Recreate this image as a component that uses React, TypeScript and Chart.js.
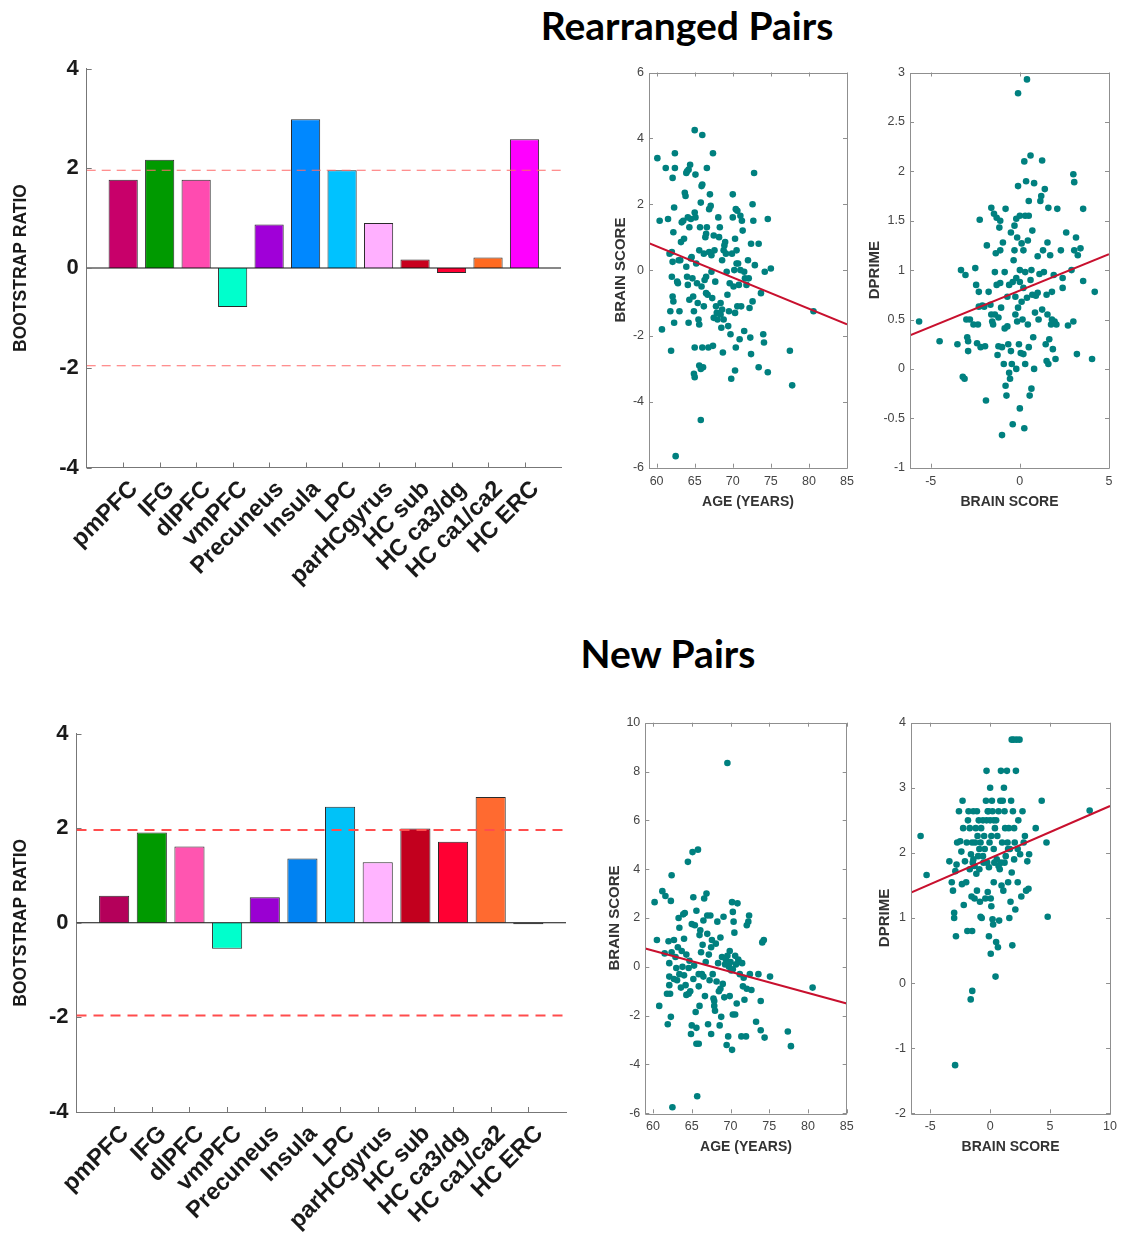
import React, { useEffect, useRef } from 'react';
import { Chart, registerables } from 'chart.js';

Chart.register(...registerables);

type Pt = [number, number];

// ---------------- DATA ----------------
const regions = ['pmPFC', 'IFG', 'dlPFC', 'vmPFC', 'Precuneus', 'Insula', 'LPC', 'parHCgyrus', 'HC sub', 'HC ca3/dg', 'HC ca1/ca2', 'HC ERC'];
const rearrangedRatios = [1.77, 2.17, 1.77, -0.78, 0.87, 2.98, 1.96, 0.9, 0.17, -0.1, 0.21, 2.58];
const newRatios = [0.57, 1.91, 1.61, -0.55, 0.54, 1.36, 2.45, 1.28, 1.99, 1.71, 2.66, -0.03];
const rearrangedColors = ['#C8006A', '#009A00', '#FF4BB0', '#00FFCC', '#A000D8', '#0088FF', '#00C2FF', '#FFB0FF', '#C8001E', '#FF0033', '#FF6A20', '#FF00FF'];
const newColors = ['#B4005A', '#009A00', '#FF55B0', '#00FFCC', '#9A00D2', '#0082F2', '#00C2F8', '#FFB4FF', '#C2001E', '#FF0033', '#FF6A30', '#111111'];
const ratioTicks = [-4, -2, 0, 2, 4];
const threshold = 1.96;

const ageTicks = [60, 65, 70, 75, 80, 85];
const brainTicksTop = [-6, -4, -2, 0, 2, 4, 6];
const brainTicksNew = [-6, -4, -2, 0, 2, 4, 6, 8, 10];
const scoreTicksTop = [-5, 0, 5];
const scoreTicksNew = [-5, 0, 5, 10];
const dprimeTicksTop = [-1, -0.5, 0, 0.5, 1, 1.5, 2, 2.5, 3];
const dprimeTicksNew = [-2, -1, 0, 1, 2, 3, 4];

// Rearranged pairs: age vs brain score
const ageBrainRearranged: Pt[] = [
  [60.1, 3.4], [60.4, 1.5], [61.2, 3.1], [61.5, 1.55], [60.7, -1.8], [61.8, -1.25], [61.9, -2.45], [61.7, 0.5], [62.0, 0.55], [62.1, 0.25],
  [62.0, -0.2], [62.1, -0.8], [62.2, -0.95], [62.3, -1.6], [62.2, 1.15], [62.3, 1.9], [62.1, 2.8], [62.4, 3.1], [62.4, 3.55], [62.5, -5.65],
  [62.8, -0.4], [62.9, 0.3], [63.0, -1.25], [63.2, 0.85], [63.3, 1.45], [63.5, 1.5], [63.6, 0.95], [63.7, 2.35], [63.8, 2.25], [63.9, 2.95],
  [64.0, 3.0], [64.2, 3.05], [64.4, 3.2], [63.9, 0.1], [64.0, -0.2], [64.1, -0.45], [64.2, -1.6], [64.3, -0.9], [64.1, 1.6], [64.3, 1.3],
  [64.5, 1.55], [64.6, 0.4], [64.7, -0.25], [64.8, -0.8], [64.9, -1.25], [65.0, 1.75], [65.1, 1.6], [64.9, -3.15], [65.0, -3.25], [65.0, -2.35],
  [65.0, 4.25], [65.1, 2.9], [65.3, -0.4], [65.4, -1.0], [65.5, -1.5], [65.6, -1.65], [65.6, 0.6], [65.7, 1.3], [65.8, 2.05], [65.9, 2.55],
  [66.0, 2.6], [66.0, 4.1], [65.8, -4.55], [65.6, -2.9], [65.8, -3.0], [66.0, -2.35], [66.1, -2.95], [66.2, -1.1], [66.3, -0.3], [66.2, 0.5],
  [66.4, 1.0], [66.5, 1.1], [66.6, 1.3], [66.6, 3.1], [66.5, -0.2], [66.7, -0.75], [66.8, -2.35], [66.9, 1.85], [67.0, 2.3], [67.1, 1.95],
  [67.2, 0.45], [67.3, -0.85], [67.4, -2.3], [67.4, 3.55], [67.5, 1.05], [67.6, 0.6], [67.7, -0.35], [67.8, -1.1], [67.9, -1.3], [68.0, -1.5],
  [68.1, 1.6], [68.2, 1.0], [68.3, 1.3], [68.4, -1.35], [68.5, -1.75], [68.6, -1.2], [68.6, 0.3], [68.7, -2.5], [68.8, 0.6], [68.9, 0.75],
  [69.0, 0.85], [69.1, 0.5], [69.2, -0.05], [69.3, -0.75], [69.4, -1.7], [69.5, -1.25], [69.7, -1.95], [69.8, -3.3], [69.9, 0.5], [70.0, 2.3],
  [70.0, 1.6], [70.1, -0.5], [70.2, 0.0], [70.3, -1.3], [70.3, 0.95], [70.4, 1.85], [70.5, 0.6], [70.5, 0.2], [70.4, -2.35], [70.3, -3.05],
  [70.6, 1.8], [70.7, 0.2], [70.8, -0.45], [70.9, -2.1], [71.0, 1.65], [71.1, -1.1], [71.2, 1.5], [71.3, 1.2], [71.5, -0.05], [71.6, -0.25],
  [71.5, -1.85], [71.8, -0.45], [72.0, 0.3], [72.1, -0.25], [72.2, -1.15], [72.3, -2.05], [72.4, -2.55], [72.4, 0.8], [72.6, 2.0], [72.7, 1.5],
  [72.6, -0.95], [72.8, 2.95], [72.9, 0.15], [73.4, 0.8], [73.4, -2.95], [73.7, -0.7], [74.0, -1.95], [74.1, -2.2], [74.2, -0.05], [74.6, 1.55],
  [74.6, -3.1], [75.0, 0.05], [77.5, -2.45], [77.8, -3.5], [80.6, -1.25], [67.2, -0.05], [66.9, 0.55], [68.4, -1.0], [69.6, -0.4], [64.5, 0.35],
  [63.1, 0.3], [62.7, -0.35], [65.2, 0.2], [67.5, -1.45], [68.8, -1.5], [70.6, -1.1], [71.0, 0.0], [65.9, -0.5], [66.5, -0.7],
];
const ageBrainRearrangedFit: Pt[] = [[59, 0.82], [85, -1.65]];

// Rearranged pairs: brain score vs dprime
const scoreDprimeRearranged: Pt[] = [
  [-5.65, 0.48], [-4.5, 0.28], [-3.5, 0.25], [-3.3, 1.0], [-3.2, -0.08], [-3.1, -0.1], [-3.05, 0.95], [-3.0, 0.5], [-2.95, 0.32], [-2.9, 0.28],
  [-2.9, 0.18], [-2.8, 0.5], [-2.6, 0.45], [-2.5, 1.02], [-2.45, 0.85], [-2.4, 0.26], [-2.35, 0.45], [-2.3, 0.63], [-2.3, 0.78], [-2.25, 1.51],
  [-2.2, 0.22], [-2.1, 0.64], [-2.0, 0.63], [-1.95, 0.23], [-1.9, -0.32], [-1.85, 1.25], [-1.75, 0.78], [-1.65, 0.65], [-1.6, 1.63], [-1.55, 0.48],
  [-1.5, 0.45], [-1.45, 1.57], [-1.4, 0.98], [-1.4, 0.55], [-1.35, 1.17], [-1.3, 1.53], [-1.3, 0.85], [-1.25, 0.14], [-1.2, 0.23], [-1.2, 0.52],
  [-1.15, 1.43], [-1.1, 1.5], [-1.1, 1.2], [-1.1, 0.87], [-1.05, 0.62], [-1.0, 0.22], [-1.0, -0.67], [-0.95, 1.28], [-0.9, 0.05], [-0.85, 0.41],
  [-0.85, 0.98], [-0.8, 1.62], [-0.8, -0.17], [-0.75, -0.27], [-0.7, 0.43], [-0.7, 0.73], [-0.65, 0.25], [-0.6, 0.85], [-0.6, -0.04], [-0.55, -0.1],
  [-0.5, 0.18], [-0.45, 0.05], [-0.4, -0.56], [-0.35, 1.1], [-0.3, 1.2], [-0.3, 1.45], [-0.25, 0.73], [-0.25, 0.55], [-0.2, 0.92], [-0.2, 0.0],
  [-0.2, 1.52], [-0.15, 1.33], [-0.15, 0.48], [-0.1, 2.79], [-0.1, 1.85], [-0.1, 0.62], [-0.05, 0.25], [0.0, 1.0], [0.0, 0.88], [0.0, -0.4],
  [0.0, 1.55], [0.05, 0.16], [0.1, 0.68], [0.1, 1.27], [0.15, 0.5], [0.2, 1.2], [0.2, 0.82], [0.2, 0.15], [0.25, 2.1], [0.25, -0.6],
  [0.3, 0.98], [0.3, 0.05], [0.35, 1.9], [0.4, 2.93], [0.4, 0.72], [0.45, 1.3], [0.45, 0.45], [0.5, 1.55], [0.5, 0.22], [0.5, 1.7],
  [0.55, -0.27], [0.6, 0.9], [0.6, 2.16], [0.65, -0.2], [0.7, 1.4], [0.7, 0.75], [0.75, 0.32], [0.8, 0.0], [0.8, 1.88], [0.85, 0.57],
  [0.9, 0.74], [1.0, 0.77], [1.0, 1.14], [1.05, 0.5], [1.1, 0.96], [1.15, 1.7], [1.2, 1.75], [1.25, 2.11], [1.3, 1.2], [1.35, 0.98],
  [1.4, 1.82], [1.45, 0.25], [1.5, 0.75], [1.5, 0.08], [1.55, 1.28], [1.55, 0.55], [1.6, 0.05], [1.6, 1.63], [1.65, 0.3], [1.7, 1.15],
  [1.75, 0.45], [1.8, 0.5], [1.8, 0.78], [1.85, 0.2], [1.9, 0.95], [1.95, 0.48], [2.0, 0.1], [2.05, 0.45], [2.1, 1.62], [2.3, 1.2],
  [2.4, 0.82], [2.4, 0.92], [2.6, 1.38], [2.7, 0.44], [2.9, 1.0], [3.0, 1.97], [3.0, 0.48], [3.05, 1.89], [3.05, 1.2], [3.15, 1.33],
  [3.2, 0.15], [3.25, 1.15], [3.4, 1.22], [3.55, 0.89], [3.55, 1.62], [4.05, 0.1], [4.2, 0.78], [0.3, 1.55], [-0.4, 0.88], [1.25, 0.6],
  [-1.6, 0.55], [0.65, 1.0], [-0.5, 1.38],
];
const scoreDprimeRearrangedFit: Pt[] = [[-6.16, 0.34], [5, 1.16]];

// New pairs: age vs brain score
const ageBrainNew: Pt[] = [
  [60.2, 2.65], [60.5, 1.1], [60.8, -1.6], [61.2, 3.1], [61.5, 0.55], [61.6, 2.9], [61.8, -1.1], [61.9, -2.35], [62.0, 1.05], [62.1, 0.15],
  [62.1, -0.4], [62.1, -0.75], [62.2, -1.1], [62.3, -2.05], [62.3, 2.7], [62.4, 3.75], [62.5, -5.75], [62.4, 0.6], [62.7, 1.1], [62.9, 0.4],
  [63.0, -0.05], [63.1, -0.55], [63.2, 0.8], [63.3, 2.0], [63.4, 1.6], [63.6, -0.85], [63.7, 0.65], [63.8, 0.0], [63.9, 2.15], [64.0, 1.15],
  [64.1, 2.2], [64.2, -0.75], [64.3, -1.15], [64.3, 0.5], [64.5, 4.3], [64.6, -0.05], [64.7, 0.25], [64.8, -1.0], [64.9, -2.75], [65.0, 1.75],
  [65.0, -2.4], [65.1, 4.7], [65.2, -0.5], [65.2, 2.85], [65.4, 1.7], [65.5, -1.85], [65.6, 2.3], [65.6, -2.5], [65.6, -3.15], [65.7, -5.3],
  [65.8, 4.8], [65.9, -3.15], [65.9, -0.8], [66.0, -1.6], [66.1, 1.5], [66.2, 0.6], [66.3, -0.3], [66.4, 0.9], [66.5, 1.9], [66.6, 2.8],
  [66.7, -1.2], [66.8, 0.2], [66.9, 3.0], [67.0, 2.1], [67.0, 1.35], [67.1, -2.35], [67.2, 0.5], [67.3, -0.55], [67.4, 2.1], [67.5, -2.75],
  [67.6, 1.1], [67.7, -0.3], [67.8, -1.3], [67.9, -1.6], [68.0, -1.8], [68.1, 0.95], [68.2, -0.6], [68.3, 1.85], [68.4, 0.15], [68.5, -1.0],
  [68.6, -2.4], [68.7, 1.2], [68.8, -2.05], [68.9, 0.4], [69.0, -0.7], [69.1, 2.05], [69.2, -1.25], [69.3, 0.1], [69.4, 0.3], [69.5, -3.2],
  [69.6, 8.35], [69.7, -2.85], [69.8, 0.0], [69.9, 0.65], [70.0, 0.2], [70.1, -0.15], [70.2, 2.65], [70.2, -3.4], [70.3, 2.25], [70.3, -1.95],
  [70.4, 1.85], [70.5, 1.4], [70.6, 0.45], [70.6, -1.95], [70.7, 0.1], [70.8, -1.5], [70.9, 2.6], [71.0, 0.3], [71.2, -0.3], [71.4, -2.85],
  [71.5, 0.15], [71.6, -0.8], [71.7, -0.45], [71.8, -1.35], [72.0, -2.85], [72.1, -0.9], [72.1, 1.7], [72.3, 1.85], [72.4, 2.1], [72.5, -0.3],
  [72.7, -0.95], [73.3, -2.25], [73.6, -0.3], [73.9, -1.4], [73.9, -2.6], [74.1, 1.0], [74.3, 1.1], [74.4, -2.9], [75.1, -0.4], [77.4, -2.65],
  [77.8, -3.25], [80.6, -0.85], [64.0, -0.35], [65.3, 0.05], [66.5, -0.4], [67.5, 0.8], [68.7, -0.9], [69.6, 0.45], [70.3, -0.1], [71.1, 0.2],
  [63.4, -0.3], [62.7, -0.5], [66.0, 1.3], [67.9, -1.4], [69.9, -1.2], [64.6, -1.1], [65.9, -0.3],
];
const ageBrainNewFit: Pt[] = [[59, 0.75], [85, -1.5]];

// New pairs: brain score vs dprime
const scoreDprimeNew: Pt[] = [
  [-5.8, 2.26], [-5.3, 1.66], [-3.4, 1.87], [-3.2, 1.55], [-3.1, 1.42], [-3.0, 1.08], [-3.0, 1.0], [-2.9, 1.72], [-2.85, 0.72], [-2.8, 1.82],
  [-2.75, 2.16], [-2.6, 2.64], [-2.5, 2.18], [-2.4, 2.02], [-2.35, 1.52], [-2.3, 2.8], [-2.25, 2.38], [-2.2, 1.2], [-2.1, 1.87], [-2.0, 1.55],
  [-1.95, 2.16], [-1.9, 0.8], [-1.85, 2.5], [-1.8, 2.64], [-1.7, 2.38], [-1.6, 1.98], [-1.55, 1.33], [-1.5, 2.16], [-1.5, 0.8], [-1.45, 1.85],
  [-1.4, 2.64], [-1.3, 1.8], [-1.3, 1.3], [-1.25, 2.16], [-1.2, 2.38], [-1.15, 1.68], [-1.1, 2.64], [-1.1, 1.42], [-1.05, 2.26], [-1.0, 1.95],
  [-0.95, 2.5], [-0.9, 1.75], [-0.85, 1.25], [-0.8, 1.02], [-0.8, 2.16], [-0.75, 2.38], [-0.7, 1.0], [-0.6, 2.5], [-0.55, 1.85], [-0.5, 2.26],
  [-0.45, 2.06], [-0.4, 1.3], [-0.35, 2.8], [-0.3, 2.5], [-0.3, 3.26], [-0.25, 1.85], [-0.2, 1.4], [-0.15, 2.64], [-0.1, 0.72], [-0.1, 1.78],
  [-0.05, 2.16], [0.0, 2.5], [0.0, 3.0], [0.05, 1.3], [0.05, 0.45], [0.1, 1.18], [0.1, 2.26], [0.15, 2.8], [0.2, 0.98], [0.2, 2.64],
  [0.25, 0.9], [0.3, 1.55], [0.3, 2.06], [0.35, 1.85], [0.4, 2.38], [0.45, 0.1], [0.5, 2.5], [0.5, 0.63], [0.55, 1.9], [0.6, 2.26],
  [0.65, 0.55], [0.7, 2.64], [0.75, 0.96], [0.8, 1.75], [0.85, 2.8], [0.9, 3.26], [0.95, 1.5], [1.0, 2.16], [1.05, 2.8], [1.1, 1.42],
  [1.15, 3.0], [1.2, 1.85], [1.25, 2.38], [1.3, 1.95], [1.4, 3.26], [1.45, 2.16], [1.5, 1.55], [1.55, 2.38], [1.6, 1.0], [1.65, 2.06],
  [1.7, 1.25], [1.75, 2.8], [1.8, 1.7], [1.8, 3.74], [1.85, 0.58], [1.9, 2.64], [1.95, 3.74], [2.0, 1.9], [2.0, 2.38], [2.05, 2.16],
  [2.1, 1.13], [2.15, 3.26], [2.2, 3.74], [2.3, 1.55], [2.35, 2.5], [2.45, 3.74], [2.5, 1.98], [2.6, 1.33], [2.7, 2.64], [2.8, 2.16],
  [2.9, 2.26], [3.0, 1.42], [3.1, 1.87], [3.2, 1.45], [3.25, 1.98], [3.8, 2.38], [4.3, 2.8], [4.7, 2.16], [4.8, 1.02], [8.3, 2.65],
  [-0.6, 1.95], [0.7, 1.8], [-1.4, 1.9], [1.5, 2.06], [0.3, 2.5], [-0.9, 2.06], [2.3, 2.06], [-1.7, 1.75], [0.9, 1.85], [-0.2, 2.64],
  [1.2, 2.64], [-1.62, -0.25], [-1.49, -0.12], [-2.92, -1.26],
];
const scoreDprimeNewFit: Pt[] = [[-6.6, 1.39], [10, 2.72]];

// ---------------- PLUGIN ----------------
const framePlugin = {
  id: 'frame',
  afterDatasetsDraw(chart: any, _args: any, opts: any) {
    if (!opts || !opts.enabled) return;
    const { ctx, chartArea: a, scales } = chart;
    const L = opts.len ?? 4;
    ctx.save();
    ctx.strokeStyle = opts.color;
    ctx.lineWidth = 1;
    ctx.beginPath();
    if (opts.box) {
      ctx.rect(Math.round(a.left) + 0.5, Math.round(a.top) + 0.5, Math.round(a.right - a.left), Math.round(a.bottom - a.top));
    }
    for (const t of scales.x.ticks) {
      const px = Math.round(scales.x.getPixelForValue(t.value)) + 0.5;
      ctx.moveTo(px, a.bottom);
      ctx.lineTo(px, a.bottom - L);
      if (opts.box) {
        ctx.moveTo(px, a.top);
        ctx.lineTo(px, a.top + L);
      }
    }
    for (const t of scales.y.ticks) {
      const py = Math.round(scales.y.getPixelForValue(t.value)) + 0.5;
      ctx.moveTo(a.left, py);
      ctx.lineTo(a.left + L, py);
      if (opts.box) {
        ctx.moveTo(a.right, py);
        ctx.lineTo(a.right - L, py);
      }
    }
    ctx.stroke();
    ctx.restore();
  },
};
Chart.register(framePlugin);
Chart.defaults.font.family = '"Liberation Sans", Arial, Helvetica, sans-serif';

// ---------------- CONFIG BUILDERS ----------------
type Geom = { yAxisW: number; padTop: number; padRight: number; xAxisH: number; yTitlePad: number; xTitlePad?: number };

function barConfig(values: number[], colors: string[], g: Geom, dash: { color: string; width: number; pattern: number[] }) {
  const n = regions.length;
  const bars = values.map((v, i) => ({ x: i + 1, y: v }));
  const hline = (y: number) => [{ x: 0, y }, { x: n + 1, y }];
  return {
    type: 'bar',
    data: {
      datasets: [
        { type: 'line', data: hline(0), borderColor: '#111', borderWidth: 1, pointRadius: 0, order: 0 },
        { type: 'line', data: hline(threshold), borderColor: dash.color, borderWidth: dash.width, borderDash: dash.pattern, pointRadius: 0, order: 0 },
        { type: 'line', data: hline(-threshold), borderColor: dash.color, borderWidth: dash.width, borderDash: dash.pattern, pointRadius: 0, order: 0 },
        { type: 'bar', data: bars, backgroundColor: colors, borderColor: '#2a2a2a', borderWidth: 1, barPercentage: 0.8, categoryPercentage: 1, order: 1 },
      ],
    },
    options: {
      responsive: false,
      animation: false,
      events: [],
      layout: { padding: { top: g.padTop, right: g.padRight, left: 0, bottom: 0 } },
      plugins: { legend: { display: false }, tooltip: { enabled: false }, frame: { enabled: true, box: false, len: 5, color: '#777' } },
      scales: {
        x: {
          type: 'linear',
          min: 0,
          max: n + 1,
          offset: false,
          grid: { display: false, drawTicks: false, offset: false },
          border: { display: true, color: '#777' },
          afterBuildTicks: (s: any) => { s.ticks = regions.map((_, i) => ({ value: i + 1 })); },
          ticks: {
            autoSkip: false,
            minRotation: 45,
            maxRotation: 45,
            padding: 8,
            labelOffset: 11,
            font: { size: 23.5, weight: 'bold' },
            color: '#1a1a1a',
            callback: (v: number) => regions[Math.round(v) - 1] ?? '',
          },
          afterFit: (s: any) => { s.height = g.xAxisH; },
        },
        y: {
          min: -4,
          max: 4,
          grid: { display: false, drawTicks: false },
          border: { display: true, color: '#777' },
          afterBuildTicks: (s: any) => { s.ticks = ratioTicks.map((v) => ({ value: v })); },
          ticks: { padding: 8, font: { size: 22, weight: 'bold' }, color: '#1a1a1a', callback: (v: number) => String(v) },
          title: { display: true, text: 'BOOTSTRAP RATIO', font: { size: 17.5, weight: 'bold' }, color: '#1a1a1a', padding: { top: g.yTitlePad, bottom: 0 } },
          afterFit: (s: any) => { s.width = g.yAxisW; },
        },
      },
    },
  };
}

function scatterConfig(points: Pt[], fit: Pt[], xr: { min: number; max: number; ticks: number[]; title: string }, yr: { min: number; max: number; ticks: number[]; title: string }, g: Geom) {
  return {
    type: 'scatter',
    data: {
      datasets: [
        { data: fit.map(([x, y]) => ({ x, y })), showLine: true, borderColor: '#C8102E', borderWidth: 2, pointRadius: 0, order: 0 },
        { data: points.map(([x, y]) => ({ x, y })), backgroundColor: '#00807F', borderWidth: 0, pointRadius: 3.3, order: 1 },
      ],
    },
    options: {
      responsive: false,
      animation: false,
      events: [],
      layout: { padding: { top: g.padTop, right: g.padRight, left: 0, bottom: 0 } },
      plugins: { legend: { display: false }, tooltip: { enabled: false }, frame: { enabled: true, box: true, len: 4, color: '#8f8f8f' } },
      scales: {
        x: {
          type: 'linear',
          min: xr.min,
          max: xr.max,
          grid: { display: false, drawTicks: false },
          border: { display: false },
          afterBuildTicks: (s: any) => { s.ticks = xr.ticks.map((v) => ({ value: v })); },
          ticks: { autoSkip: false, maxRotation: 0, padding: 6, font: { size: 12.5 }, color: '#454545', callback: (v: number) => String(+v) },
          title: { display: true, text: xr.title, font: { size: 14, weight: 'bold' }, color: '#333', padding: { top: 0, bottom: g.xTitlePad ?? 10 } },
          afterFit: (s: any) => { s.height = g.xAxisH; },
        },
        y: {
          type: 'linear',
          min: yr.min,
          max: yr.max,
          grid: { display: false, drawTicks: false },
          border: { display: false },
          afterBuildTicks: (s: any) => { s.ticks = yr.ticks.map((v) => ({ value: v })); },
          ticks: { autoSkip: false, padding: 5, font: { size: 12.5 }, color: '#454545', callback: (v: number) => String(+v) },
          title: { display: true, text: yr.title, font: { size: 15, weight: 'bold' }, color: '#333', padding: { top: g.yTitlePad, bottom: 0 } },
          afterFit: (s: any) => { s.width = g.yAxisW; },
        },
      },
    },
  };
}

// ---------------- COMPONENTS ----------------
function ChartCanvas({ left, top, width, height, make }: { left: number; top: number; width: number; height: number; make: () => any }) {
  const ref = useRef<HTMLCanvasElement>(null);
  useEffect(() => {
    const chart = new Chart(ref.current as HTMLCanvasElement, make());
    return () => chart.destroy();
  }, []);
  return <canvas ref={ref} width={width} height={height} style={{ position: 'absolute', left, top, width, height }} />;
}

const titleStyle: React.CSSProperties = {
  position: 'absolute',
  transform: 'translate(-50%, -50%)',
  fontFamily: 'Lato, "Open Sans", sans-serif',
  fontWeight: 700,
  fontSize: 39,
  color: '#000',
  whiteSpace: 'nowrap',
  lineHeight: 1,
};

export default function App() {
  return (
    <div style={{ position: 'absolute', left: 0, top: 0, width: 1123, height: 1234, background: '#fff', overflow: 'hidden' }}>
      <div style={{ ...titleStyle, left: 687, top: 25 }}>Rearranged Pairs</div>
      <div style={{ ...titleStyle, left: 668, top: 653 }}>New Pairs</div>

      <ChartCanvas
        left={0} top={40} width={580} height={560}
        make={() => barConfig(rearrangedRatios, rearrangedColors, { yAxisW: 86.7, padTop: 28.5, padRight: 19, xAxisH: 132.5, yTitlePad: 11 }, { color: '#FF6B6B', width: 1.2, pattern: [9, 6] })}
      />
      <ChartCanvas
        left={600} top={60} width={260} height={460}
        make={() => scatterConfig(ageBrainRearranged, ageBrainRearrangedFit, { min: 59, max: 85, ticks: ageTicks, title: 'AGE (YEARS)' }, { min: -6, max: 6, ticks: brainTicksTop, title: 'BRAIN SCORE' }, { yAxisW: 49, padTop: 12.5, padRight: 13, xAxisH: 52.3, yTitlePad: 12, xTitlePad: 9.9 })}
      />
      <ChartCanvas
        left={860} top={60} width={263} height={460}
        make={() => scatterConfig(scoreDprimeRearranged, scoreDprimeRearrangedFit, { min: -6.16, max: 5, ticks: scoreTicksTop, title: 'BRAIN SCORE' }, { min: -1, max: 3, ticks: dprimeTicksTop, title: 'DPRIME' }, { yAxisW: 50, padTop: 12.5, padRight: 14, xAxisH: 52.3, yTitlePad: 6.2, xTitlePad: 9.9 })}
      />

      <ChartCanvas
        left={0} top={710} width={580} height={524}
        make={() => barConfig(newRatios, newColors, { yAxisW: 76.5, padTop: 23.5, padRight: 14, xAxisH: 122, yTitlePad: 11 }, { color: '#FF4D4D', width: 2, pattern: [10, 7] })}
      />
      <ChartCanvas
        left={600} top={710} width={260} height={460}
        make={() => scatterConfig(ageBrainNew, ageBrainNewFit, { min: 59, max: 85, ticks: ageTicks, title: 'AGE (YEARS)' }, { min: -6, max: 10, ticks: brainTicksNew, title: 'BRAIN SCORE' }, { yAxisW: 45.3, padTop: 12.7, padRight: 13.3, xAxisH: 56.7, yTitlePad: 6.2, xTitlePad: 14.9 })}
      />
      <ChartCanvas
        left={860} top={710} width={263} height={460}
        make={() => scatterConfig(scoreDprimeNew, scoreDprimeNewFit, { min: -6.6, max: 10, ticks: scoreTicksNew, title: 'BRAIN SCORE' }, { min: -2, max: 4, ticks: dprimeTicksNew, title: 'DPRIME' }, { yAxisW: 51, padTop: 12.7, padRight: 9.7, xAxisH: 56.7, yTitlePad: 16.2, xTitlePad: 14.9 })}
      />
    </div>
  );
}
